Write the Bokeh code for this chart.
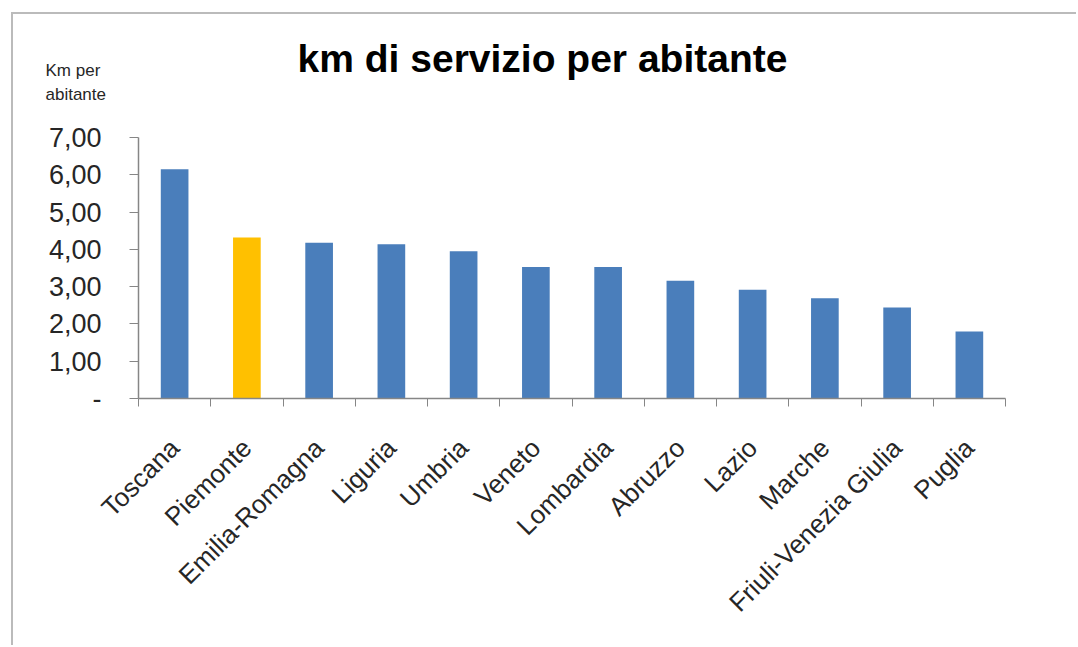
import math
from bokeh.plotting import figure
from bokeh.layouts import column, row
from bokeh.models import Range1d, FixedTicker, Label, ColumnDataSource, BoxAnnotation, Div
from bokeh.embed import file_html
from bokeh.resources import INLINE

# ---- data ----
regions = ["Toscana", "Piemonte", "Emilia-Romagna", "Liguria", "Umbria", "Veneto",
           "Lombardia", "Abruzzo", "Lazio", "Marche", "Friuli-Venezia Giulia", "Puglia"]
km_per_abitante = [6.15, 4.32, 4.18, 4.14, 3.95, 3.53, 3.53, 3.16, 2.92, 2.69, 2.44, 1.80]
highlight_region = "Piemonte"
y_tick_values = [0, 1, 2, 3, 4, 5, 6, 7]
y_tick_labels = ["-", "1,00", "2,00", "3,00", "4,00", "5,00", "6,00", "7,00"]
title_text = "km di servizio per abitante"
unit_lines = ["Km per", "abitante"]

# ---- style ----
BLUE = "#4A7EBB"
GOLD = "#FFC000"
FONT = "Liberation Sans"
AX = "#868686"
FRAME = "#BBBBBB"
TXT = "#262626"

TOTAL_W = 1076
TOP_H = 105
MAIN_H = 540
STRIP_W = 20


def bare(fig):
    fig.grid.visible = False
    fig.outline_line_color = None
    fig.background_fill_color = "white"
    fig.border_fill_color = "white"
    return fig


# ---- top band: title, unit label, frame lines ----
top = bare(figure(width=TOTAL_W, height=TOP_H, output_backend="svg", toolbar_location=None,
                  x_range=Range1d(0, TOTAL_W), y_range=Range1d(TOP_H, 0),
                  x_axis_location=None, y_axis_location=None,
                  min_border_left=0, min_border_right=0, min_border_top=0, min_border_bottom=0))
top.add_layout(BoxAnnotation(left=10.5, right=TOTAL_W, top=11.5, bottom=13.5,
                             fill_color=FRAME, fill_alpha=1, line_color=None))
top.add_layout(BoxAnnotation(left=10.5, right=12.5, top=11.5, bottom=TOP_H,
                             fill_color=FRAME, fill_alpha=1, line_color=None))
top.add_layout(Label(x=542, y=58, text=title_text, text_font=FONT, text_font_style="bold",
                     text_font_size="39px", text_color="#000000",
                     text_align="center", text_baseline="middle"))
top.add_layout(Label(x=45, y=70, text=unit_lines[0], text_font=FONT, text_font_size="17px",
                     text_color=TXT, text_align="left", text_baseline="middle"))
top.add_layout(Label(x=45, y=94, text=unit_lines[1], text_font=FONT, text_font_size="17px",
                     text_color=TXT, text_align="left", text_baseline="middle"))

# ---- left strip: continuation of the frame line ----
strip = Div(width=STRIP_W, height=MAIN_H, margin=(0, 0, 0, 0),
            text='<div style="margin-left:11px;width:2px;height:%dpx;background:%s"></div>' % (MAIN_H, FRAME))

# ---- main chart ----
n = len(regions)
centers = [i + 0.5 for i in range(n)]
colors = [GOLD if r == highlight_region else BLUE for r in regions]
src = ColumnDataSource(dict(x=centers, top=km_per_abitante, color=colors, name=regions))

main_w = TOTAL_W - STRIP_W
frame_w = 867
frame_h = 261
border_l = 118
border_t = 137 - TOP_H
p = bare(figure(width=main_w, height=MAIN_H, output_backend="svg", toolbar_location=None,
                x_range=Range1d(0, n), y_range=Range1d(0, 7),
                min_border_left=border_l, min_border_right=main_w - border_l - frame_w,
                min_border_top=border_t, min_border_bottom=MAIN_H - border_t - frame_h))

p.vbar(x="x", top="top", bottom=0, width=0.383, color="color", line_color=None, source=src)

xa = p.xaxis[0]
xa.ticker = FixedTicker(ticks=centers, minor_ticks=list(range(n + 1)))
xa.major_label_overrides = {c: r for c, r in zip(centers, regions)}
xa.major_label_orientation = math.pi / 4
xa.major_tick_out = 0
xa.major_tick_in = 0
xa.minor_tick_out = 8
xa.minor_tick_in = 0
xa.minor_tick_line_color = AX
xa.axis_line_color = AX
xa.axis_line_width = 1.5
xa.major_label_text_font = FONT
xa.major_label_text_font_size = "26px"
xa.major_label_text_color = TXT
xa.major_label_standoff = 37

ya = p.yaxis[0]
ya.ticker = FixedTicker(ticks=y_tick_values, minor_ticks=[])
ya.major_label_overrides = {v: l for v, l in zip(y_tick_values, y_tick_labels)}
ya.major_tick_out = 9
ya.major_tick_in = 0
ya.major_tick_line_color = AX
ya.axis_line_color = AX
ya.axis_line_width = 1.5
ya.major_label_text_font = FONT
ya.major_label_text_font_size = "27px"
ya.major_label_text_color = TXT
ya.major_label_standoff = 28

layout = column(top, row(strip, p, spacing=0), spacing=0)

open("out.html", "w").write(file_html(layout, INLINE))
